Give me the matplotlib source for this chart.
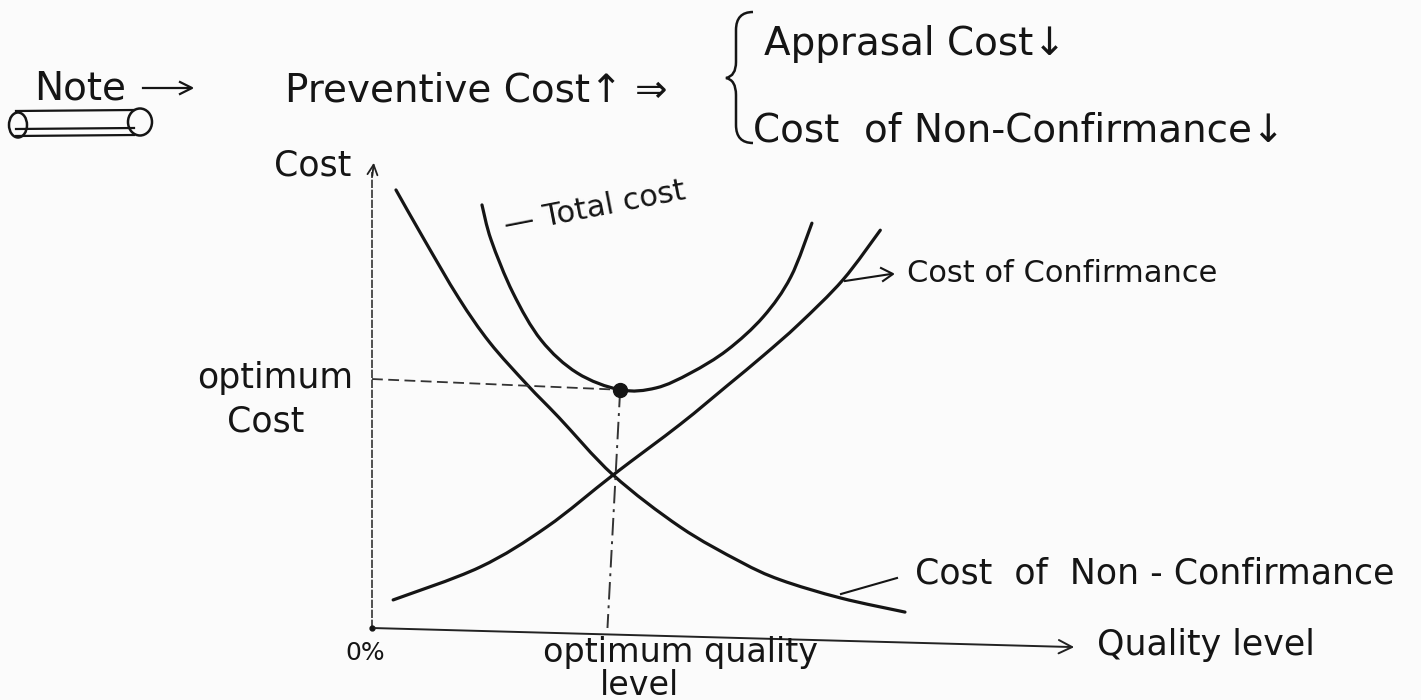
import matplotlib
matplotlib.use("Agg")
import numpy as np
import matplotlib.pyplot as plt
from matplotlib.patches import Ellipse, PathPatch
from matplotlib.path import Path
from matplotlib.transforms import Affine2D

plt.rcParams['font.family'] = ['DejaVu Sans']

# curves (quality level 0..10, cost 0..10)
quality_nonconf = [0.34, 0.74, 1.23, 1.67, 2.20, 2.65, 3.42, 4.37, 5.22, 5.79, 6.65, 7.56]
cost_nonconf = [9.36, 8.30, 7.05, 6.10, 5.20, 4.50, 3.27, 2.16, 1.42, 1.03, 0.64, 0.34]

quality_conf = [0.30, 1.53, 2.48, 3.42, 4.37, 5.04, 5.55, 6.06, 6.68, 7.21]
cost_conf = [0.60, 1.30, 2.16, 3.27, 4.35, 5.18, 5.82, 6.50, 7.44, 8.50]

quality_total = [1.56, 1.69, 2.00, 2.40, 2.91, 3.52, 4.03, 4.52, 5.04, 5.55, 5.94, 6.24]
cost_total = [9.04, 8.29, 7.16, 6.15, 5.45, 5.09, 5.13, 5.45, 5.94, 6.65, 7.50, 8.65]

optimum_quality = 3.52
optimum_cost = 5.09
guide_cost_at_axis = 5.32      # dashed line meets the cost axis a bit higher
guide_quality_at_axis = 3.34   # dashed drop line meets the quality axis
quality_axis_end = (10.0, -0.41)

note_text = "Note"
header_text = "Preventive Cost\u2191 \u21d2"
brace_lines = ["Apprasal Cost\u2193", "Cost  of Non-Confirmance\u2193"]
y_label = "Cost"
x_label = "Quality level"
zero_label = "0%"
opt_cost_label = ["optimum", "Cost"]
opt_quality_label = ["optimum quality", "level"]
total_label = "\u2014 Total cost"
conf_label = "Cost of Confirmance"
nonconf_label = "Cost  of  Non - Confirmance"

ink = '#151515'


def smooth_curve(xs, ys):
    # catmull-rom through the read points, drawn as cubic bezier segments
    p = np.column_stack([xs, ys])
    verts = [tuple(p[0])]
    codes = [Path.MOVETO]
    n = len(p)
    for i in range(n - 1):
        p0 = p[max(i - 1, 0)]
        p1 = p[i]
        p2 = p[i + 1]
        p3 = p[min(i + 2, n - 1)]
        c1 = p1 + (p2 - p0) / 6
        c2 = p2 - (p3 - p1) / 6
        verts += [tuple(c1), tuple(c2), tuple(p2)]
        codes += [Path.CURVE4] * 3
    return Path(verts, codes)


fig = plt.figure(figsize=(14.21, 7.0), dpi=100)
fig.patch.set_facecolor('#fbfbfb')
# pixel coordinates, origin top-left, for the free-hand notes
px = Affine2D().scale(1 / 1421, -1 / 700).translate(0, 1) + fig.transFigure

ax = fig.add_axes([372 / 1421, 72 / 700, 705 / 1421, 468 / 700])
ax.set_xlim(0, 10)
ax.set_ylim(0, 10)
ax.axis('off')

# axes drawn by hand
ax.plot([0, 0], [0, 9.75], color='#333333', lw=1.2, ls=(0, (5, 1)), clip_on=False)
ax.annotate('', xy=(0.03, 10.0), xytext=(0.0, 9.6),
            arrowprops=dict(arrowstyle='->', lw=1.3, color='#222222', mutation_scale=18),
            annotation_clip=False)
ax.annotate('', xy=quality_axis_end, xytext=(0, 0),
            arrowprops=dict(arrowstyle='->', lw=1.4, color='#222222', mutation_scale=24),
            annotation_clip=False)
ax.plot([0], [0], 'o', color=ink, ms=3.5, clip_on=False)

# cost curves
for xs, ys in [(quality_nonconf, cost_nonconf), (quality_conf, cost_conf),
               (quality_total, cost_total)]:
    ax.add_patch(PathPatch(smooth_curve(xs, ys), fill=False, ec=ink, lw=2.3,
                           capstyle='round', joinstyle='round', clip_on=False))

# optimum guides
ax.plot([0, optimum_quality], [guide_cost_at_axis, optimum_cost], color='#333333',
        lw=1.3, ls=(0, (6, 3)), clip_on=False)
ax.plot([optimum_quality, guide_quality_at_axis], [optimum_cost, 0], color='#333333',
        lw=1.4, ls=(0, (9, 3, 1.5, 3)), clip_on=False)
ax.plot([optimum_quality], [optimum_cost], 'o', color=ink, ms=10, clip_on=False)

# header note
fig.text(34, 100, note_text, transform=px, fontsize=28, color=ink, va='baseline')
fig.add_artist(plt.Line2D([143, 190], [88, 88], transform=px, color=ink, lw=1.6))
fig.add_artist(plt.Line2D([180, 192, 180], [82, 88, 94], transform=px, color=ink, lw=1.6))
fig.add_artist(Ellipse((18, 125), 18, 25, transform=px, fill=False, ec=ink, lw=1.8))
fig.add_artist(Ellipse((140, 122), 24, 27, transform=px, fill=False, ec=ink, lw=1.8))
for yy in (111, 129, 136):
    fig.add_artist(plt.Line2D([16, 134], [yy, yy - 1], transform=px, color=ink, lw=1.6))

fig.text(285, 102, header_text, transform=px, fontsize=28, color=ink, va='baseline')
brace = Path([(753, 12), (736, 12), (736, 30), (736, 62), (736, 76), (726, 78),
              (736, 80), (736, 95), (736, 125), (736, 143), (753, 143)],
             [Path.MOVETO, Path.CURVE3, Path.CURVE3, Path.LINETO, Path.CURVE3, Path.CURVE3,
              Path.CURVE3, Path.CURVE3, Path.LINETO, Path.CURVE3, Path.CURVE3])
fig.add_artist(PathPatch(brace, transform=px, fill=False, ec=ink, lw=1.8))
fig.text(764, 55, brace_lines[0], transform=px, fontsize=28, color=ink, va='baseline')
fig.text(753, 142, brace_lines[1], transform=px, fontsize=28, color=ink, va='baseline')

# chart labels
fig.text(274, 175, y_label, transform=px, fontsize=25, color=ink, va='baseline')
fig.text(345, 660, zero_label, transform=px, fontsize=18, color=ink, va='baseline')
fig.text(197, 388, opt_cost_label[0], transform=px, fontsize=25, color=ink, va='baseline')
fig.text(227, 431, opt_cost_label[1], transform=px, fontsize=25, color=ink, va='baseline')
fig.text(543, 662, opt_quality_label[0], transform=px, fontsize=24, color=ink, va='baseline')
fig.text(600, 695, opt_quality_label[1], transform=px, fontsize=24, color=ink, va='baseline')
fig.text(1097, 655, x_label, transform=px, fontsize=25, color=ink, va='baseline')
fig.text(595, 208, total_label, transform=px, fontsize=22, color=ink, ha='center',
         va='center', rotation=11)
fig.add_artist(plt.Line2D([845, 891], [281, 274], transform=px, color=ink, lw=1.5))
fig.add_artist(plt.Line2D([881, 893, 883], [268, 274, 281], transform=px, color=ink, lw=1.5))
fig.text(907, 282, conf_label, transform=px, fontsize=22, color=ink, va='baseline')
fig.add_artist(plt.Line2D([841, 897], [594, 578], transform=px, color=ink, lw=1.5))
fig.text(915, 584, nonconf_label, transform=px, fontsize=25, color=ink, va='baseline')

fig.savefig('out.png', dpi=100, facecolor=fig.get_facecolor())
